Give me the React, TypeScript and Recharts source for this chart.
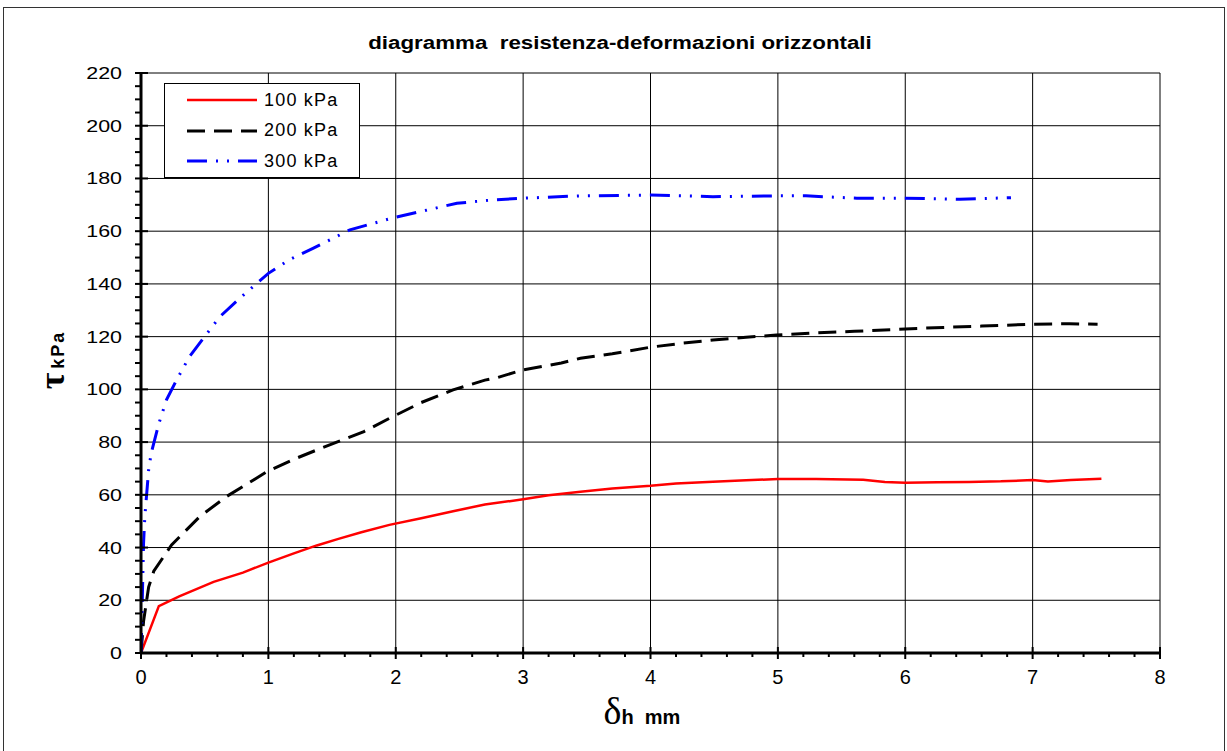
import React from 'react';
import { LineChart, Line, XAxis, YAxis, ReferenceLine } from 'recharts';

// deformazione orizzontale (mm) / resistenza (kPa) per ogni pressione verticale
const x100 = [0, 0.14, 0.3, 0.57, 0.8, 1.0, 1.2, 1.38, 1.55, 1.73, 1.95, 2.2, 2.45, 2.7, 3.0, 3.2, 3.45, 3.7, 4.0, 4.2, 4.49, 4.75, 5.0, 5.3, 5.67, 5.84, 6.0, 6.25, 6.5, 6.75, 7.0, 7.12, 7.3, 7.54];
const y100 = [0, 17.8, 21.5, 27, 30.5, 34.3, 37.8, 40.8, 43.3, 45.8, 48.6, 51.1, 53.8, 56.3, 58.3, 59.8, 61.2, 62.4, 63.4, 64.3, 65.0, 65.5, 66.0, 66.0, 65.7, 64.9, 64.6, 64.8, 64.9, 65.1, 65.6, 65.1, 65.6, 66.1];

const x200 = [0, 0.02, 0.06, 0.1, 0.24, 0.46, 0.67, 0.99, 1.2, 1.38, 1.75, 1.95, 2.2, 2.45, 2.7, 2.8, 3.0, 3.3, 3.45, 3.7, 4.0, 4.25, 4.49, 4.75, 4.99, 5.3, 5.6, 6.0, 6.3, 6.6, 7.0, 7.29, 7.51];
const y200 = [0, 12, 25, 31, 41, 51.7, 59.3, 68.8, 73.5, 77, 84, 89, 95, 99.8, 103.5, 104.5, 107.4, 110, 111.8, 113.5, 116, 117.5, 118.7, 119.8, 120.6, 121.4, 122, 122.9, 123.5, 124.0, 124.7, 124.9, 124.7];

const x300 = [0, 0.01, 0.02, 0.03, 0.06, 0.08, 0.14, 0.2, 0.28, 0.38, 0.52, 0.62, 0.79, 1.0, 1.17, 1.35, 1.64, 1.9, 2.0, 2.2, 2.48, 2.75, 3.0, 3.45, 4.0, 4.49, 4.99, 5.22, 5.62, 6.0, 6.43, 6.83];
const y300 = [0, 20, 41.6, 51.7, 69.4, 75.8, 87, 96, 103.6, 112.4, 121.3, 127.6, 135.2, 144, 149.3, 153.5, 160.5, 164, 165.3, 167.5, 170.6, 171.8, 172.5, 173.4, 173.7, 173.1, 173.4, 173.4, 172.5, 172.5, 172.1, 172.7];

const xTicks = Array.from({ length: 41 }, (_, i) => +(i * 0.2).toFixed(1));
const yTicks = Array.from({ length: 45 }, (_, i) => i * 5);
const xGrid = [1, 2, 3, 4, 5, 6, 7, 8];
const yGrid = [20, 40, 60, 80, 100, 120, 140, 160, 180, 200, 220];

const toPoints = (xs: number[], ys: number[]) => xs.map((x, i) => ({ x, y: ys[i] }));

const series = [
  { name: '100 kPa', data: toPoints(x100, y100), color: '#ff0000', dash: undefined, width: 2.5 },
  { name: '200 kPa', data: toPoints(x200, y200), color: '#000000', dash: '18 9', width: 3 },
  { name: '300 kPa', data: toPoints(x300, y300), color: '#0000ff', dash: '20 9 2 9 2 9', width: 3 },
];

const font = '"Liberation Sans", Arial, sans-serif';

const XTick = ({ x, y, payload }: any) => {
  const v = payload.value;
  const major = Math.abs(v - Math.round(v)) < 1e-6;
  return (
    <g>
      <line x1={x} x2={x} y1={major ? y - 6 : y} y2={y + (major ? 6 : 4)} stroke="#000" strokeWidth={2} />
      {major && (
        <text x={x} y={y + 31} textAnchor="middle" fontSize={20} fontFamily={font} fill="#000">
          {Math.round(v)}
        </text>
      )}
    </g>
  );
};

const YTick = ({ x, y, payload }: any) => {
  const v = payload.value;
  const major = v % 20 === 0;
  return (
    <g>
      <line x1={x - 6} x2={major ? x + 7 : x} y1={y} y2={y} stroke="#000" strokeWidth={2} />
      {major && (
        <text transform={`translate(${x - 19},${y + 6}) scale(1.3,1)`} textAnchor="end" fontSize={16.5} fontFamily={font} fill="#000">
          {v}
        </text>
      )}
    </g>
  );
};

export default function App() {
  return (
    <div style={{ position: 'relative', width: 1227, height: 751, overflow: 'hidden', background: '#fff', fontFamily: font }}>
      <style>{'body{margin:0}'}</style>
      <div style={{ position: 'absolute', left: 3, top: 7, width: 1220, height: 800, border: '1px solid #333' }} />

      <LineChart width={1227} height={751} margin={{ top: 73, right: 67, bottom: 58, left: 81 }}>
        <XAxis
          type="number"
          dataKey="x"
          domain={[0, 8]}
          ticks={xTicks}
          interval={0}
          height={40}
          tickSize={0}
          tickMargin={0}
          tickLine={false}
          tick={<XTick />}
          axisLine={{ stroke: '#000', strokeWidth: 3 }}
          allowDataOverflow
        />
        <YAxis
          type="number"
          domain={[0, 220]}
          ticks={yTicks}
          interval={0}
          width={60}
          tickSize={0}
          tickMargin={0}
          tickLine={false}
          tick={<YTick />}
          axisLine={{ stroke: '#000', strokeWidth: 3 }}
          allowDataOverflow
        />
        {yGrid.map((v) => (
          <ReferenceLine key={'h' + v} y={v} stroke="#000" strokeWidth={1} />
        ))}
        {xGrid.map((v) => (
          <ReferenceLine key={'v' + v} x={v} stroke="#000" strokeWidth={1} />
        ))}
        {series.map((s) => (
          <Line
            key={s.name}
            data={s.data}
            dataKey="y"
            name={s.name}
            type="linear"
            stroke={s.color}
            strokeWidth={s.width}
            strokeDasharray={s.dash}
            dot={false}
            activeDot={false}
            isAnimationActive={false}
          />
        ))}
      </LineChart>

      {/* titolo */}
      <div style={{ position: 'absolute', left: 0, width: 1240, top: 33, textAlign: 'center', fontWeight: 'bold', fontSize: 18, transform: 'scaleX(1.24)', whiteSpace: 'pre' }}>
        {'diagramma  resistenza-deformazioni orizzontali'}
      </div>

      {/* legenda */}
      <div style={{ position: 'absolute', left: 164, top: 83, width: 194, height: 93, border: '1px solid #000', background: '#fff' }}>
        {series.map((s, i) => (
          <div key={s.name} style={{ position: 'absolute', left: 0, top: 16 + i * 30.5 - 11, height: 22, display: 'flex', alignItems: 'center' }}>
            <svg width={96} height={22} style={{ display: 'block' }}>
              <line x1={22} x2={92} y1={11} y2={11} stroke={s.color} strokeWidth={s.width} strokeDasharray={s.dash} />
            </svg>
            <span style={{ fontSize: 18, letterSpacing: 1.2, marginLeft: 3 }}>{s.name}</span>
          </div>
        ))}
      </div>

      {/* etichetta asse y */}
      <div style={{ position: 'absolute', left: 52, top: 360, transform: 'translate(-50%, -50%) rotate(-90deg)', whiteSpace: 'pre', display: 'flex', alignItems: 'baseline' }}>
        <span style={{ fontFamily: '"Liberation Serif", serif', fontSize: 36, fontWeight: 'bold' }}>τ</span>
        <span style={{ fontSize: 18, fontWeight: 'bold', letterSpacing: 2, marginLeft: 4 }}>kPa</span>
      </div>

      {/* etichetta asse x */}
      <div style={{ position: 'absolute', left: 642, top: 689, transform: 'translateX(-50%)', whiteSpace: 'pre', display: 'flex', alignItems: 'baseline' }}>
        <span style={{ fontFamily: '"Liberation Serif", serif', fontSize: 38 }}>δ</span>
        <span style={{ fontSize: 20, fontWeight: 'bold' }}>{'h  mm'}</span>
      </div>
    </div>
  );
}
